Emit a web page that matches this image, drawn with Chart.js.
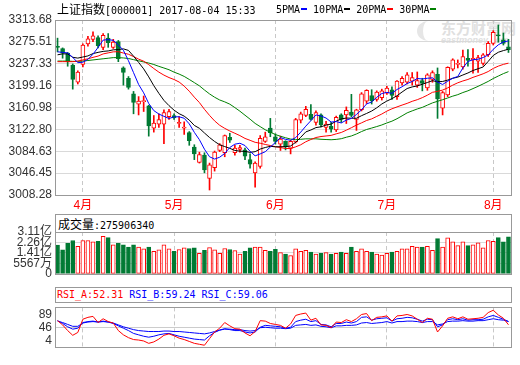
<!DOCTYPE html>
<html>
<head>
<meta charset="utf-8">
<title>上证指数</title>
<script src="https://cdn.jsdelivr.net/npm/chart.js@4.4.1/dist/chart.umd.min.js"></script>
<style>
  body { margin: 0; background: #fff; }
  #page { position: relative; width: 520px; height: 365px; overflow: hidden; background: #fff; }
  canvas { position: absolute; left: 0; z-index: 2; }
  .txt { position: absolute; white-space: nowrap; color: #000; z-index: 3; }
  .cn { font-family: "Noto Sans CJK SC", sans-serif; font-size: 12px; }
  .mono { font-family: "DejaVu Sans Mono", monospace; font-size: 10px; }
  .box { position: absolute; left: 55px; width: 457px; box-sizing: border-box; border: 1px solid #999; z-index: 1; }
  .mark { display: inline-block; width: 6px; height: 2px; margin: 0 6px 3px 1px; vertical-align: middle; }
  #wm { position: absolute; left: 417px; top: 19px; color: #e0e0e0; z-index: 0; }
  #wm .logo { position: absolute; left: 0; top: 2px; width: 16px; height: 20px; border-radius: 50%; border-left: 6px solid #e6e6e6; }
</style>
</head>
<body>
<div id="page">
  <div id="wm">
    <div class="logo"></div>
    <div style="font: bold 15px 'Noto Sans CJK SC'; padding-left: 24px; line-height: 17px;">东方财富网</div>
    <div style="font: bold italic 9px Arial, 'Liberation Sans'; padding-left: 24px; line-height: 9px;">eastmoney.com</div>
  </div>

  <div class="txt" style="left:57px; top:1px; line-height:16px;"><span class="cn">上证指数</span><span class="mono">[000001] 2017-08-04 15:33</span></div>
  <div class="txt mono" style="left:276px; top:3px; line-height:14px;">5PMA<i class="mark" style="background:#0000ff"></i>10PMA<i class="mark" style="background:#000"></i>20PMA<i class="mark" style="background:#ff0000"></i>30PMA<i class="mark" style="background:#008000"></i></div>

  <canvas id="kline" width="520" height="215" style="top:0"></canvas>

  <div class="box" style="top:214px; height:19px;">
    <div class="txt" style="left:2px; top:0; line-height:17px;"><span class="cn">成交量</span><span class="mono">:275906340</span></div>
  </div>
  <canvas id="vol" width="520" height="68" style="top:216px"></canvas>

  <div class="box" style="top:287px; height:16px;">
    <div class="txt mono" style="left:1px; top:0; line-height:14px;"><span style="color:#ff0000">RSI_A:52.31</span> <span style="color:#0000ff">RSI_B:59.24</span> <span style="color:#0000ff">RSI_C:59.06</span></div>
  </div>
  <canvas id="rsi" width="520" height="75" style="top:290px"></canvas>
</div>

<script>
// trading days, 2017
const dates = [
  '03-27','03-28','03-29','03-30','03-31',
  '04-05','04-06','04-07','04-10','04-11','04-12','04-13','04-14','04-17','04-18','04-19','04-20','04-21','04-24','04-25','04-26','04-27','04-28',
  '05-02','05-03','05-04','05-05','05-08','05-09','05-10','05-11','05-12','05-15','05-16','05-17','05-18','05-19','05-22','05-23','05-24','05-25','05-26','05-31',
  '06-01','06-02','06-05','06-06','06-07','06-08','06-09','06-12','06-13','06-14','06-15','06-16','06-19','06-20','06-21','06-22','06-23','06-26','06-27','06-28','06-29','06-30',
  '07-03','07-04','07-05','07-06','07-07','07-10','07-11','07-12','07-13','07-14','07-17','07-18','07-19','07-20','07-21','07-24','07-25','07-26','07-27','07-28','07-31',
  '08-01','08-02','08-03','08-04'
];

const opens = [
  3267,3264,3256,3235,3205,3236,3272,3280,3283,3266,
  3282,3266,3276,3230,3212,3185,3167,3171,3164,3125,
  3132,3132,3145,3147,3133,3125,3117,3092,3065,3078,
  3037,3056,3086,3082,3109,3082,3088,3087,3070,3047,
  3058,3102,3125,3110,3097,3102,3090,3101,3139,3147,
  3149,3135,3148,3126,3128,3122,3148,3148,3153,3140,
  3157,3172,3182,3175,3178,3186,3192,3180,3204,3205,
  3207,3200,3208,3195,3210,3219,3160,3183,3228,3236,
  3232,3247,3244,3242,3238,3253,3273,3288,3279,3267
];
const highs = [
  3282,3265,3257,3237,3225,3272,3285,3293,3286,3290,
  3290,3280,3278,3232,3215,3189,3180,3181,3165,3147,
  3150,3157,3158,3150,3145,3136,3119,3096,3083,3082,
  3064,3085,3098,3113,3116,3095,3095,3090,3080,3066,
  3112,3118,3142,3115,3111,3103,3104,3142,3153,3163,
  3166,3155,3150,3137,3135,3146,3150,3162,3184,3158,
  3187,3192,3192,3190,3193,3198,3197,3208,3215,3222,
  3222,3223,3212,3220,3225,3230,3189,3232,3246,3244,
  3261,3262,3264,3252,3255,3276,3295,3305,3291,3280
];
const lows = [
  3258,3247,3233,3193,3202,3232,3268,3276,3265,3262,
  3266,3264,3241,3200,3193,3150,3148,3154,3111,3118,
  3126,3098,3140,3140,3126,3114,3095,3070,3064,3047,
  3017,3050,3084,3075,3100,3078,3083,3070,3055,3022,
  3055,3100,3110,3097,3086,3087,3080,3099,3134,3145,
  3139,3130,3127,3118,3118,3119,3135,3133,3145,3121,
  3155,3168,3167,3172,3174,3184,3175,3175,3200,3202,
  3200,3196,3190,3191,3205,3142,3148,3180,3225,3230,
  3228,3233,3221,3222,3235,3250,3270,3275,3270,3257
];
const closes = [
  3266,3256,3241,3210,3223,3270,3281,3286,3269,3287,
  3274,3275,3246,3222,3196,3170,3172,3173,3129,3134,
  3140,3152,3154,3143,3135,3127,3103,3080,3079,3052,
  3061,3083,3096,3112,3104,3090,3091,3076,3062,3064,
  3107,3110,3117,3102,3106,3092,3102,3140,3150,3158,
  3140,3152,3131,3132,3123,3144,3140,3156,3147,3157,
  3185,3191,3173,3188,3190,3195,3182,3207,3212,3218,
  3213,3208,3203,3218,3222,3176,3187,3231,3244,3238,
  3250,3243,3247,3248,3253,3273,3292,3286,3273,3262
];

const ma5 = [
  3258.2,3257.1,3256.2,3248.5,3239.2,3240,3245,3254,3265.8,3278.6,
  3279.4,3278.2,3270.2,3260.8,3242.6,3221.8,3201.2,3186.6,3168,3155.6,
  3149.6,3145.6,3141.8,3144.6,3144.8,3142.2,3132.4,3117.6,3104.8,3088.2,
  3075,3071,3074.2,3080.8,3091.2,3097,3098.6,3094.6,3084.6,3076.6,
  3080,3083.8,3092,3100,3108.4,3105.4,3103.8,3108.4,3118,3128.4,
  3138,3148,3146.2,3142.6,3135.6,3136.4,3134,3139,3142,3148.8,
  3157,3167.2,3170.6,3178.8,3185.4,3187.4,3185.6,3192.4,3197.2,3202.8,
  3206.4,3211.6,3210.8,3212,3212.8,3205.4,3201.2,3206.8,3212,3215.2,
  3230,3241.2,3244.4,3245.2,3248.2,3252.8,3262.6,3270.4,3275.4,3277.2
];
const ma10 = [
  3252.9,3254.6,3254.5,3248.6,3247.2,3249.1,3251,3255.1,3257.2,3258.9,
  3259.7,3261.6,3262.1,3263.3,3260.6,3250.6,3239.7,3228.4,3214.4,3199.1,
  3185.7,3173.4,3164.2,3156.3,3150.2,3145.9,3139,3129.7,3124.7,3116.5,
  3108.6,3101.7,3095.9,3092.8,3089.7,3086,3084.8,3084.4,3082.7,3083.9,
  3088.5,3091.2,3093.3,3092.3,3092.5,3092.7,3093.8,3100.2,3109,3118.4,
  3121.7,3125.9,3127.3,3130.3,3132,3137.2,3141,3142.6,3142.3,3142.2,
  3146.7,3150.6,3154.8,3160.4,3167.1,3172.2,3176.4,3181.5,3188,3194.1,
  3196.9,3198.6,3201.6,3204.6,3207.8,3205.9,3206.4,3208.8,3212,3214,
  3217.7,3221.2,3225.6,3228.6,3231.7,3241.4,3251.9,3257.4,3260.3,3262.7
];
const ma20 = [
  3241,3241,3241,3241,3242,3244,3246,3248.5,3250.7,3254.5,
  3256.3,3258.1,3258.3,3256,3253.9,3249.8,3245.4,3241.8,3235.8,3229,
  3222.7,3217.5,3213.2,3209.8,3205.4,3198.3,3189.4,3179,3169.6,3157.8,
  3147.2,3137.6,3130,3124.6,3120,3116,3111.9,3107,3103.7,3100.2,
  3098.6,3096.5,3094.6,3092.6,3091.1,3089.4,3089.3,3092.3,3095.9,3101.2,
  3105.1,3108.6,3110.3,3111.3,3112.3,3115,3117.4,3121.4,3125.7,3130.3,
  3134.2,3138.3,3141.1,3145.4,3149.6,3154.7,3158.7,3162,3165.2,3168.2,
  3171.8,3174.6,3178.2,3182.5,3187.5,3189.1,3191.4,3195.2,3200,3204.1,
  3207.3,3209.9,3213.6,3216.6,3219.8,3223.7,3229.2,3233.2,3236.2,3238.4
];
const ma30 = [
  3242,3242,3242,3241.5,3241.5,3242,3243,3244,3245,3246,
  3247,3248,3248,3247.5,3246.5,3244.5,3242.5,3240.5,3238.6,3236,
  3232.8,3229.9,3226.9,3222.7,3219.3,3215.2,3209.9,3204.4,3198.8,3191.5,
  3184.7,3178.9,3174.1,3170.8,3166.8,3160.8,3154.5,3147.5,3140.6,3133.2,
  3127.6,3122.1,3117.8,3113.8,3110.8,3108.2,3105.9,3104.8,3105.5,3106.3,
  3106.3,3106.3,3105.5,3105.1,3104.7,3105.3,3106.5,3109.1,3111.3,3114.8,
  3119,3122.6,3125.1,3127.7,3130.5,3134,3137.1,3141.4,3146.4,3151.6,
  3155.1,3158.4,3161.2,3165.1,3169,3171.8,3174.6,3177.6,3180.8,3183.4,
  3187.1,3190.1,3194,3197.9,3202.2,3206.5,3211.6,3215.9,3220.1,3223.6
];

// volume in 亿
const volume = [
  2.14,1.78,2.26,2.48,2.05,2.48,2.48,2.37,2.41,2.79,
  2.69,2.16,2.26,2.16,1.99,2.16,1.99,1.85,1.99,1.68,
  1.78,2.16,1.85,1.68,1.81,1.93,1.88,1.93,1.53,1.74,
  1.95,1.78,1.53,1.88,1.81,1.72,1.47,1.68,1.93,1.99,
  1.99,1.74,1.68,1.82,1.57,1.47,1.36,1.85,1.68,1.74,
  1.61,1.47,1.53,1.57,1.47,1.53,1.61,1.53,1.99,1.68,
  1.85,1.68,1.61,1.47,1.40,1.53,1.61,1.68,1.85,1.85,
  2.04,1.99,1.99,2.05,1.74,2.62,1.99,2.67,2.37,2.10,
  2.37,2.10,2.16,2.31,1.93,2.48,2.41,2.69,2.37,2.759
];

const rsiA = [
  61,52,40,30,36,64,68,70,57,65,
  59,56,40,31,25,21,20,18,13,16,
  22,30,33,29,24,21,17,13,11,9,
  23,37,45,57,50,44,43,35,29,38,
  61,60,55,53,51,45,54,72,75,77,
  62,66,52,51,46,58,57,63,59,65,
  74,76,61,68,69,71,60,71,72,74,
  71,64,57,66,64,37,50,66,69,65,
  69,64,65,66,68,78,83,73,66,52.31
];
const rsiB = [
  61,55,48,43,45,57,59,60,58,60,
  58,55,50,45,40,34,31,28,26,28,
  31,33,34,31,28,26,24,22,21,20,
  29,36,41,44,42,40,40,37,35,37,
  47,51,50,49,48,45,47,59,62,64,
  59,61,53,52,48,55,55,58,56,59,
  68,69,62,65,66,67,60,65,66,68,
  67,64,60,64,63,48,52,63,65,63,
  65,62,63,63,64,69,72,68,64,59.24
];
const rsiC = [
  60,57,53,49,49,56,58,59,58,59,
  58,56,52,48,45,42,40,39,38,38,
  38,39,39,38,38,37,36,35,34,33,
  35,38,41,43,43,42,42,40,39,40,
  46,47,46,45,45,44,45,51,52,53,
  51,52,49,48,46,50,50,51,51,52,
  56,57,55,56,57,59,56,59,59,60,
  60,59,57,59,59,52,54,59,60,60,
  61,60,60,61,61,63,65,63,62,59.06
];

const priceTicks = [3008.28, 3046.45, 3084.63, 3122.80, 3160.98, 3199.16, 3237.33, 3275.51, 3313.68];
const volMax = 3.11;
// the source draws its five volume labels on evenly spaced grid lines
const volTickLabels = ['0', '5567万', '1.41亿', '2.26亿', '3.11亿'];
const rsiTicks = [4, 46, 89];

const RED = '#ff0000';
const GREEN = '#007a33';
const FONT = 'Arial, "Liberation Sans", "Noto Sans CJK SC", sans-serif';

const isUp = i => closes[i] >= opens[i];
const monthStart = i => i > 0 && dates[i].slice(0, 2) !== dates[i - 1].slice(0, 2);

// grey box around each plot area
const frame = {
  id: 'frame',
  afterDraw(chart) {
    const a = chart.chartArea, c = chart.ctx;
    c.save();
    c.strokeStyle = '#999';
    c.lineWidth = 1;
    c.strokeRect(Math.round(a.left) + 0.5, Math.round(a.top) + 0.5,
      Math.round(a.right - a.left), Math.round(a.bottom - a.top));
    c.restore();
  }
};

function xAxis(showLabels) {
  return {
    offset: true,
    grid: {
      offset: false,
      drawTicks: false,
      color: ctx => monthStart(ctx.index) ? '#c8c8c8' : 'rgba(0,0,0,0)'
    },
    border: { display: false, dash: [4, 3] },
    ticks: {
      display: showLabels,
      autoSkip: false,
      maxRotation: 0,
      minRotation: 0,
      padding: 3,
      color: RED,
      font: { size: 12, family: FONT },
      callback: (v, i) => monthStart(i) ? (+dates[i].slice(0, 2)) + '月' : ''
    },
    afterFit: s => { s.height = showLabels ? 20 : 0; }
  };
}

const baseOptions = {
  responsive: false,
  animation: false,
  devicePixelRatio: 1,
  events: [],
  plugins: { legend: { display: false }, tooltip: { enabled: false } }
};

new Chart(document.getElementById('kline'), {
  type: 'bar',
  data: {
    labels: dates,
    datasets: [
      { type: 'line', data: ma5, borderColor: '#0000ff', borderWidth: 1, pointRadius: 0, order: 0 },
      { type: 'line', data: ma10, borderColor: '#000000', borderWidth: 1, pointRadius: 0, order: 1 },
      { type: 'line', data: ma20, borderColor: '#ff0000', borderWidth: 1, pointRadius: 0, order: 2 },
      { type: 'line', data: ma30, borderColor: '#008000', borderWidth: 1, pointRadius: 0, order: 3 },
      {
        data: opens.map((o, i) => [o, closes[i]]),
        backgroundColor: ctx => isUp(ctx.dataIndex) ? '#ffffff' : GREEN,
        borderColor: ctx => isUp(ctx.dataIndex) ? RED : GREEN,
        borderWidth: 1, borderSkipped: false, barThickness: 4, minBarLength: 1,
        grouped: false, order: 4
      },
      {
        data: lows.map((l, i) => [l, highs[i]]),
        backgroundColor: ctx => isUp(ctx.dataIndex) ? RED : GREEN,
        borderWidth: 0, barThickness: 1, grouped: false, order: 5
      }
    ]
  },
  options: {
    ...baseOptions,
    layout: { padding: { top: 20, right: 9, left: 0, bottom: 0 } },
    scales: {
      x: xAxis(true),
      y: {
        min: 3008.28,
        max: 3313.68,
        afterBuildTicks: s => { s.ticks = priceTicks.map(v => ({ value: v })); },
        afterFit: s => { s.width = 55; },
        grid: { color: '#d9d9d9', drawTicks: false },
        border: { display: false },
        ticks: { autoSkip: false, padding: 3, color: '#333', font: { size: 12, family: FONT }, callback: v => v.toFixed(2) }
      }
    }
  },
  plugins: [frame]
});

new Chart(document.getElementById('vol'), {
  type: 'bar',
  data: {
    labels: dates,
    datasets: [{
      data: volume,
      backgroundColor: ctx => isUp(ctx.dataIndex) ? '#ffffff' : GREEN,
      borderColor: ctx => isUp(ctx.dataIndex) ? RED : GREEN,
      borderWidth: 1, borderSkipped: false, barThickness: 4
    }]
  },
  options: {
    ...baseOptions,
    layout: { padding: { top: 16, right: 9, left: 0, bottom: 3 } },
    scales: {
      x: xAxis(false),
      y: {
        min: 0,
        max: volMax,
        afterBuildTicks: s => {
          s.ticks = volTickLabels.map((_, i) => ({ value: volMax * i / (volTickLabels.length - 1) }));
        },
        afterFit: s => { s.width = 55; },
        grid: { color: '#d9d9d9', drawTicks: false },
        border: { display: false },
        ticks: { autoSkip: false, padding: 3, color: '#333', font: { size: 12, family: FONT }, callback: (v, i) => volTickLabels[i] }
      }
    }
  },
  plugins: [frame]
});

new Chart(document.getElementById('rsi'), {
  type: 'line',
  data: {
    labels: dates,
    datasets: [
      { data: rsiA, borderColor: '#ff0000', borderWidth: 1, pointRadius: 0 },
      { data: rsiB, borderColor: '#0000ff', borderWidth: 1, pointRadius: 0 },
      { data: rsiC, borderColor: '#0000ff', borderWidth: 1, pointRadius: 0 }
    ]
  },
  options: {
    ...baseOptions,
    layout: { padding: { top: 12, right: 9, left: 0, bottom: 2 } },
    scales: {
      x: xAxis(false),
      y: {
        min: 4,
        max: 89,
        afterBuildTicks: s => { s.ticks = rsiTicks.map(v => ({ value: v })); },
        afterFit: s => { s.width = 55; },
        grid: {
          drawTicks: false,
          color: ctx => ctx.tick && ctx.tick.value === 46 ? '#cccccc' : 'rgba(0,0,0,0)'
        },
        border: { display: false },
        ticks: {
          autoSkip: false,
          padding: 3, color: '#333', font: { size: 12, family: FONT },
          // keep the end labels inside the panel
          callback: v => v === 4 ? ['4', ''] : v === 89 ? ['', '89'] : String(v)
        }
      }
    }
  },
  plugins: [frame]
});
</script>
</body>
</html>
